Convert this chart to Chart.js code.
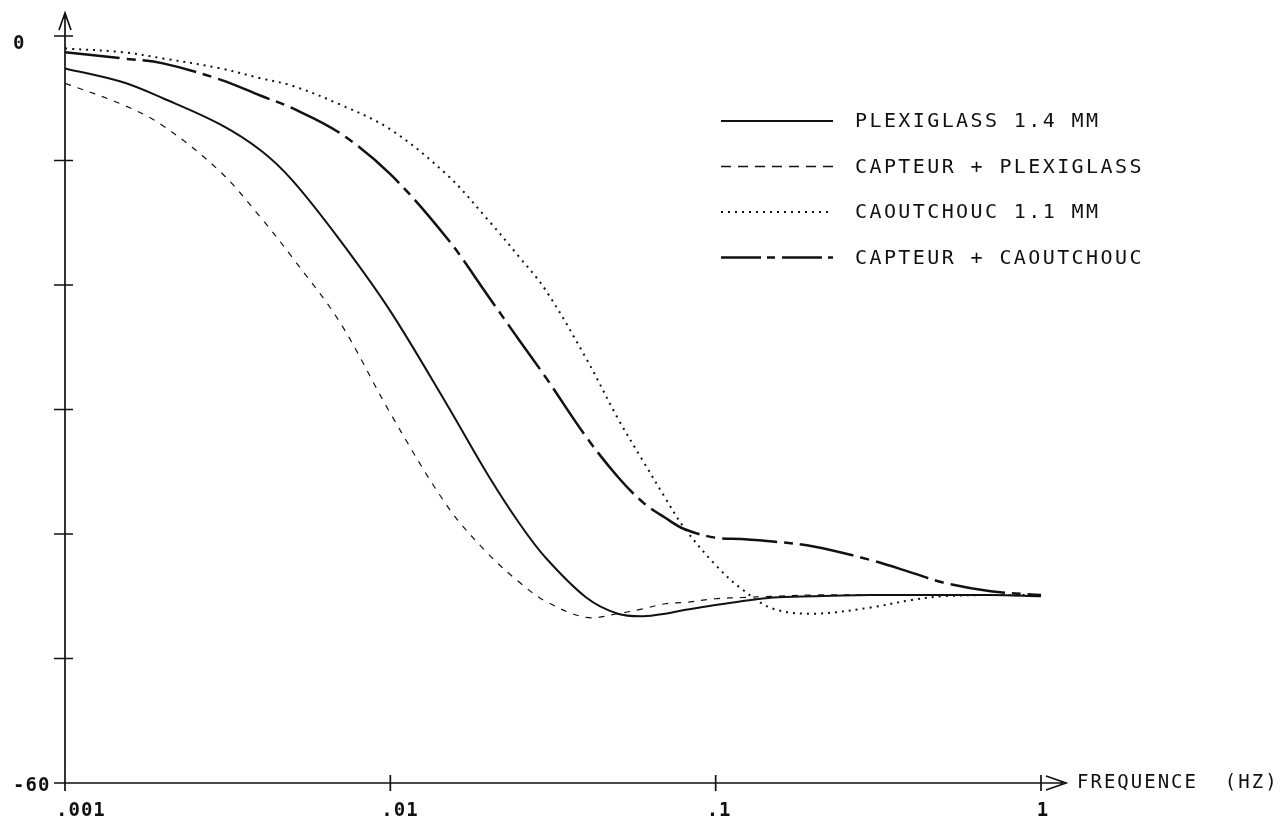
<!DOCTYPE html>
<html>
<head>
<meta charset="utf-8">
<script src="https://cdn.jsdelivr.net/npm/chart.js@4"></script>
<style>
  html, body { margin: 0; padding: 0; background: #fff; }
  canvas { display: block; }
</style>
</head>
<body>
<canvas id="courbes" width="1284" height="822"></canvas>
<script>
// reponse en frequence (dB) - lecture sur le trace

const frequences = [0.001, 0.0015, 0.002, 0.003, 0.004, 0.005, 0.007, 0.01, 0.015, 0.02, 0.025, 0.03, 0.04, 0.05, 0.06, 0.07, 0.08, 0.1, 0.12, 0.15, 0.2, 0.3, 0.4, 0.5, 0.7, 1];

const plexiglass = [-2.6, -3.7, -5.0, -7.1, -9.2, -11.6, -16.4, -22.1, -29.7, -35.3, -39.2, -41.9, -45.1, -46.4, -46.6, -46.4, -46.1, -45.7, -45.4, -45.1, -45.0, -44.9, -44.9, -44.9, -44.9, -45.0];
const capteurPlexiglass = [-3.8, -5.5, -7.2, -10.9, -14.6, -17.8, -23.0, -30.3, -37.8, -41.6, -43.9, -45.4, -46.7, -46.4, -46.0, -45.6, -45.5, -45.2, -45.1, -45.0, -44.9, -44.9, -44.9, -44.9, -44.9, -45.0];
const caoutchouc = [-1.0, -1.3, -1.8, -2.6, -3.4, -4.0, -5.5, -7.5, -11.2, -14.8, -17.8, -20.4, -25.9, -30.7, -34.2, -37.1, -39.5, -42.5, -44.4, -46.0, -46.4, -45.9, -45.3, -45.0, -44.9, -44.9];
const capteurCaoutchouc = [-1.3, -1.8, -2.2, -3.5, -4.8, -5.8, -7.8, -11.1, -16.3, -20.9, -24.5, -27.4, -32.2, -35.4, -37.5, -38.7, -39.6, -40.3, -40.4, -40.6, -41.0, -42.1, -43.1, -43.9, -44.6, -44.9];

const noms = ["PLEXIGLASS 1.4 MM", "CAPTEUR + PLEXIGLASS", "CAOUTCHOUC 1.1 MM", "CAPTEUR + CAOUTCHOUC"];

const ticksX = [0.001, 0.01, 0.1, 1];
const textesX = [".001", ".01", ".1", "1"];
const ticksY = [0, -10, -20, -30, -40, -50, -60];
const valeursY = [0, -60];
const textesY = ["0", "-60"];

const encre = "#111";
const police = "DejaVu Sans Mono";

function points(valeurs) {
  return frequences.map((f, i) => ({ x: f, y: valeurs[i] }));
}

// axes, fleches, graduations et textes du traceur
const axes = {
  id: "axes",
  afterDatasetsDraw(chart) {
    const ctx = chart.ctx;
    const sx = chart.scales.x;
    const sy = chart.scales.y;
    const x0 = sx.getPixelForValue(0.001);
    const y0 = sy.getPixelForValue(-60);
    const xFin = sx.getPixelForValue(1);

    ctx.save();
    ctx.strokeStyle = encre;
    ctx.lineWidth = 1.7;
    ctx.setLineDash([]);
    ctx.beginPath();
    ctx.moveTo(x0, y0);
    ctx.lineTo(x0, 13);
    ctx.moveTo(x0 - 6, 30);
    ctx.lineTo(x0, 13);
    ctx.lineTo(x0 + 6, 30);
    ctx.moveTo(x0, y0);
    ctx.lineTo(xFin + 22, y0);
    ctx.moveTo(xFin + 5, y0 - 7);
    ctx.lineTo(xFin + 25, y0);
    ctx.lineTo(xFin + 5, y0 + 7);
    ticksY.forEach((v) => {
      const py = sy.getPixelForValue(v);
      ctx.moveTo(x0 - 11, py);
      ctx.lineTo(x0 + 8, py);
    });
    ticksX.forEach((v) => {
      const px = sx.getPixelForValue(v);
      ctx.moveTo(px, y0 - 8);
      ctx.lineTo(px, y0 + 8);
    });
    ctx.stroke();

    ctx.fillStyle = encre;
    ctx.font = "bold 19px '" + police + "'";
    ctx.letterSpacing = "1px";
    ctx.textBaseline = "middle";
    ticksX.forEach((v, i) => {
      const px = sx.getPixelForValue(v);
      if (textesX[i].startsWith(".")) {
        ctx.textAlign = "left";
        ctx.fillText(textesX[i], px - 9, y0 + 28);
      } else {
        ctx.textAlign = "center";
        ctx.fillText(textesX[i], px + 2, y0 + 28);
      }
    });
    ctx.textAlign = "left";
    valeursY.forEach((v, i) => {
      const py = sy.getPixelForValue(v);
      const dy = v === 0 ? 8 : 3;
      ctx.fillText(textesY[i], 13, py + dy);
    });
    ctx.font = "19px '" + police + "'";
    ctx.letterSpacing = "2px";
    ctx.fillText("FREQUENCE  (HZ)", xFin + 36, y0);
    ctx.restore();
  }
};

// legende dessinee comme sur l'original
const legende = {
  id: "legende",
  afterDraw(chart) {
    const ctx = chart.ctx;
    ctx.save();
    ctx.font = "20px '" + police + "'";
    ctx.letterSpacing = "2.4px";
    ctx.textBaseline = "middle";
    ctx.textAlign = "left";
    chart.data.datasets.forEach((ds, i) => {
      const y = 121 + i * 45.5;
      ctx.strokeStyle = encre;
      ctx.lineWidth = ds.legendWidth || ds.borderWidth;
      ctx.setLineDash(ds.legendDash || ds.borderDash || []);
      ctx.beginPath();
      ctx.moveTo(721, y);
      ctx.lineTo(833, y);
      ctx.stroke();
      ctx.fillStyle = encre;
      ctx.fillText(ds.label, 855, y + 1);
    });
    ctx.restore();
  }
};

new Chart(document.getElementById("courbes").getContext("2d"), {
  type: "line",
  data: {
    datasets: [
      {
        label: noms[0],
        data: points(plexiglass),
        borderColor: encre,
        borderWidth: 2,
        borderDash: [],
      },
      {
        label: noms[1],
        data: points(capteurPlexiglass),
        borderColor: encre,
        borderWidth: 1.2,
        borderDash: [6, 7],
        legendDash: [10, 7],
        legendWidth: 1.6,
      },
      {
        label: noms[2],
        data: points(caoutchouc),
        borderColor: encre,
        borderWidth: 2,
        borderDash: [2, 5],
      },
      {
        label: noms[3],
        data: points(capteurCaoutchouc),
        borderColor: encre,
        borderWidth: 2.5,
        borderDash: [55, 7, 9, 7],
        legendDash: [40, 6, 8, 7],
      },
    ],
  },
  options: {
    responsive: false,
    animation: false,
    devicePixelRatio: 1,
    layout: { padding: { left: 65, right: 243, top: 36, bottom: 39 } },
    plugins: { legend: { display: false }, tooltip: { enabled: false } },
    elements: { point: { radius: 0 }, line: { tension: 0.35, fill: false } },
    scales: {
      x: { type: "logarithmic", min: 0.001, max: 1, display: false },
      y: { type: "linear", min: -60, max: 0, display: false },
    },
  },
  plugins: [axes, legende],
});
</script>
</body>
</html>
